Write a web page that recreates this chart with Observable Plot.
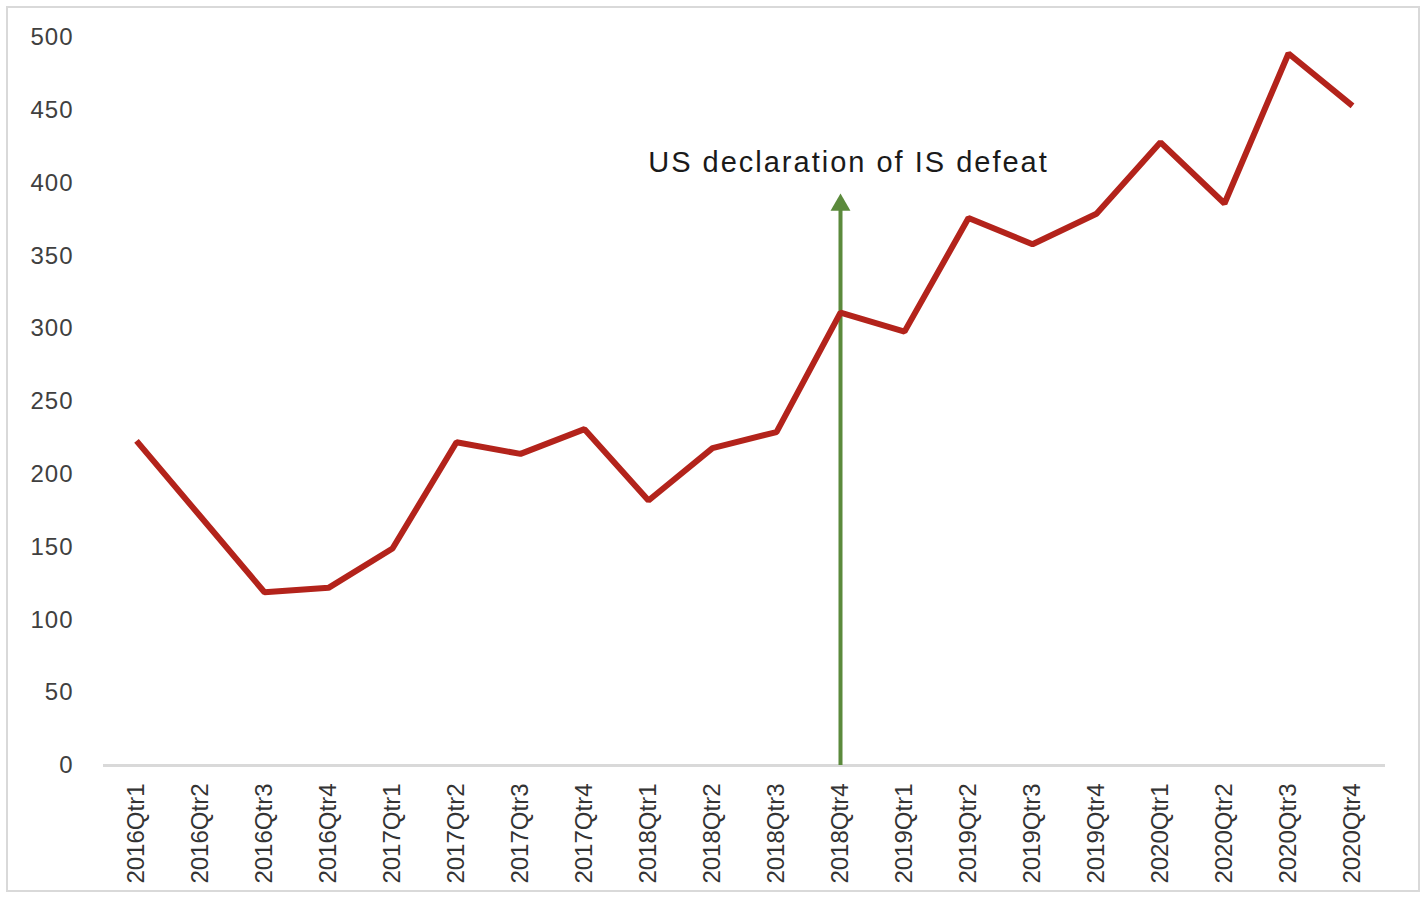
<!DOCTYPE html>
<html>
<head>
<meta charset="utf-8">
<script src="https://cdn.jsdelivr.net/npm/d3@7"></script>
<script src="https://cdn.jsdelivr.net/npm/@observablehq/plot@0.6"></script>
<style>
  html, body { margin: 0; padding: 0; background: #fff; }
  #wrap { position: relative; width: 1427px; height: 899px; overflow: hidden; }
  #border { position: absolute; left: 6px; top: 6px; width: 1414px; height: 886px; border: 2px solid #d9d9d9; box-sizing: border-box; pointer-events: none; }
  #wrap svg { position: absolute; left: 0; top: 0; }
  .evlabel text { letter-spacing: 2px; }
  .yax text { letter-spacing: 1px; }
</style>
</head>
<body>
<div id="wrap"><div id="border"></div></div>
<script>
const quarters = ["2016Qtr1","2016Qtr2","2016Qtr3","2016Qtr4","2017Qtr1","2017Qtr2","2017Qtr3","2017Qtr4","2018Qtr1","2018Qtr2","2018Qtr3","2018Qtr4","2019Qtr1","2019Qtr2","2019Qtr3","2019Qtr4","2020Qtr1","2020Qtr2","2020Qtr3","2020Qtr4"];
const values = [223, 171, 119, 122, 149, 222, 214, 231, 182, 218, 229, 311, 298, 376, 358, 379, 428, 386, 489, 453];
const yTicks = [0, 50, 100, 150, 200, 250, 300, 350, 400, 450, 500];
const eventQuarter = ["2018Qtr4"];
const eventArrowTop = [385];
const eventLabelY = [414];
const eventLabel = ["US declaration of IS defeat"];

const data = quarters.map((q, i) => ({q, v: values[i]}));
const ev = eventQuarter.map((q, i) => ({q, top: eventArrowTop[i], ly: eventLabelY[i], label: eventLabel[i]}));

const chart = Plot.plot({
  width: 1427,
  height: 899,
  marginLeft: 103,
  marginRight: 42,
  marginTop: 37,
  marginBottom: 134,
  style: {fontFamily: "'Liberation Sans', Arial, sans-serif", background: "transparent", overflow: "visible"},
  x: {type: "point", domain: quarters, padding: 0.5, label: null},
  y: {domain: [0, 500], label: null},
  marks: [
    Plot.axisY({ticks: yTicks, tickSize: 0, tickPadding: 30, fontSize: 24, fill: "#404040", label: null, className: "yax"}),
    Plot.axisX({tickSize: 0, tickPadding: 18, tickRotate: -90, fontSize: 24, fill: "#333", label: null}),
    Plot.ruleY([0], {stroke: "#d9d9d9", strokeWidth: 3}),
    Plot.ruleX(ev, {x: "q", y1: 0, y2: "top", stroke: "#5b8a3c", strokeWidth: 4}),
    Plot.dot(ev, {x: "q", y: "top", symbol: "triangle", r: 7.4, fill: "#5b8a3c", stroke: "none"}),
    Plot.line(data, {x: "q", y: "v", stroke: "#b3231b", strokeWidth: 6, strokeLinejoin: "miter", strokeLinecap: "butt"}),
    Plot.text(ev, {x: "q", y: "ly", text: "label", dx: 8, fontSize: 29, fill: "#1a1a1a", className: "evlabel"})
  ]
});
document.getElementById("wrap").prepend(chart);
</script>
</body>
</html>
